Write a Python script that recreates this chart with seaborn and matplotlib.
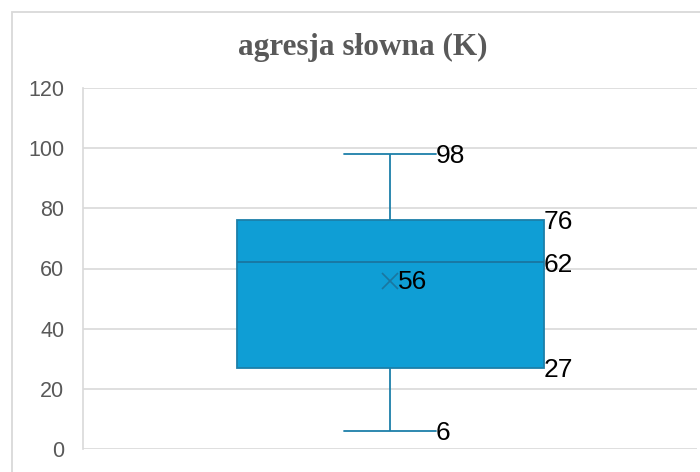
import matplotlib
matplotlib.use("Agg")
import pandas as pd
import matplotlib.pyplot as plt
import seaborn as sns
from matplotlib.patches import Rectangle

# dane
title = "agresja słowna (K)"
group = "K"
summary_names = ["min", "q1", "median", "q3", "max"]
summary_values = [6, 27, 62, 76, 98]
mean_value = 56
y_ticks = [0, 20, 40, 60, 80, 100, 120]

box_color = "#0f9ed5"
line_color = "#1c7fa9"
grid_color = "#d9d9d9"
text_grey = "#595959"
box_width = 0.5
cap_width = 0.15

sns.set_theme(style="white")
plt.rcParams["font.family"] = ["Liberation Sans", "DejaVu Sans"]

fig = plt.figure(figsize=(7, 4.72), dpi=100)
ax = fig.add_axes([83 / 700, 23 / 472, 614 / 700, 361 / 472])

df = pd.DataFrame({"grupa": [group] * len(summary_values), "wartosc": summary_values})
sns.boxplot(data=df, x="grupa", y="wartosc", ax=ax, width=box_width,
            whis=(0, 100), color=box_color, saturation=1, linecolor=line_color,
            linewidth=1.3, capwidths=cap_width,
            medianprops={"color": "#1a76a0", "linewidth": 1.3})

# srednia
ax.plot([0], [mean_value], marker="x", color="#1a76a0", markersize=12,
        markeredgewidth=1.2, linestyle="none", zorder=5)

label_kw = dict(ha="left", va="center", fontsize=19, color="black",
                textcoords="offset points")
vals = dict(zip(summary_names, summary_values))
for k in ["q1", "median", "q3"]:
    ax.annotate(str(vals[k]), (box_width / 2, vals[k]), xytext=(0, -1.5), **label_kw)
for k in ["min", "max"]:
    ax.annotate(str(vals[k]), (cap_width / 2, vals[k]), xytext=(0, -1.5), **label_kw)
ax.annotate(str(mean_value), (0, mean_value), xytext=(6, -1), **label_kw)

ax.set_xlim(-0.5, 0.5)
ax.set_ylim(0, 120)
ax.set_yticks(y_ticks)
ax.set_xticks([])
ax.set_xlabel("")
ax.set_ylabel("")
ax.yaxis.grid(True, color=grid_color, linewidth=1.2)
ax.set_axisbelow(True)
ax.tick_params(axis="y", length=0, pad=13.5, labelsize=15.5, labelcolor=text_grey)
for s in ["top", "right", "bottom"]:
    ax.spines[s].set_visible(False)
ax.spines["left"].set_color(grid_color)
ax.spines["left"].set_linewidth(1.2)

# ramka obszaru wykresu (ucieta z prawej i z dolu)
fig.patches.append(Rectangle((12 / 700, -0.1), 1.2, 1 - 12 / 472 + 0.1,
                             transform=fig.transFigure, fill=False,
                             edgecolor=grid_color, linewidth=1.3))

fig.text(362.5 / 700, 1 - 47 / 472, title, ha="center", va="center",
         fontsize=22.5, fontweight="bold", color=text_grey,
         family=["Liberation Serif", "DejaVu Serif"])

fig.savefig("out.png", dpi=100)
